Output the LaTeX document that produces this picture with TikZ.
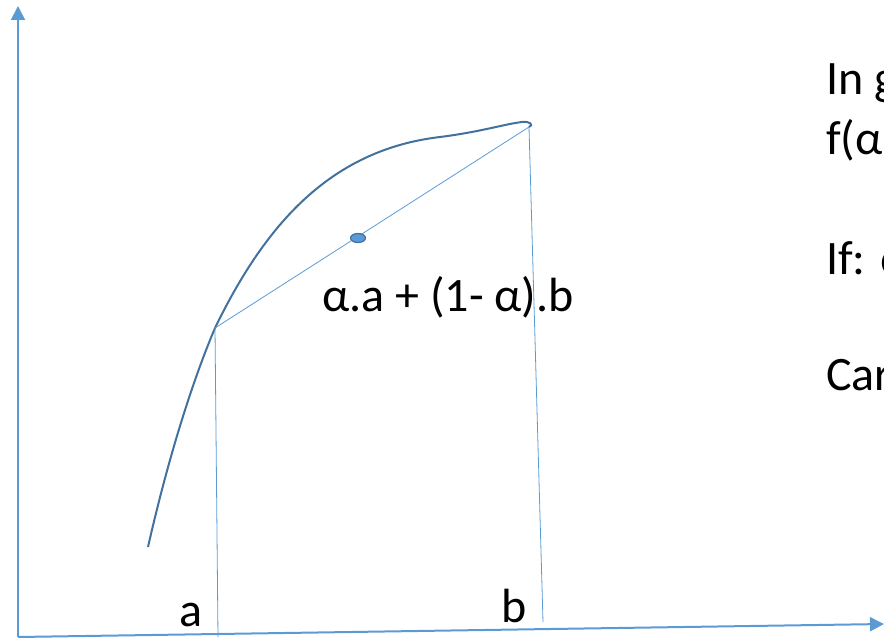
\documentclass[tikz,border=0pt]{standalone}
\usepackage{fontspec}
\setmainfont{Carlito}
\usetikzlibrary{arrows.meta,shapes.geometric}
\definecolor{axisblue}{HTML}{5B9BD5}
\definecolor{curveblue}{HTML}{41719C}
\tikzset{
  axis/.style={draw=axisblue, line width=2pt, -{Triangle[length=14pt, width=14pt]}},
  guide/.style={draw=axisblue, line width=0.8pt},
  curve/.style={draw=curveblue, line width=2pt},
  lbl/.style={font=\fontsize{48}{56}\selectfont, inner sep=0pt},
  note/.style={font=\fontsize{48}{56}\selectfont, inner sep=0pt, anchor=west},
}
\begin{document}
\begin{tikzpicture}[x=1pt, y=-1pt]
  \useasboundingbox (0,0) rectangle (884,639);
  \clip (0,0) rectangle (884,639);
  %% axes
  \coordinate (origin) at (18,637);
  \coordinate (ytop) at (18,6);
  \coordinate (xend) at (884,624);
  \draw[axis] (origin) -- (ytop);
  \draw[axis] (origin) -- (xend);

  %% concave curve and its chord
  \coordinate (pa) at (215,328);
  \coordinate (pb) at (529,127);
  \draw[curve] (148,547) .. controls (170,450) and (195,375) .. (pa)
    .. controls (265,225) and (330,150) .. (440,137)
    .. controls (480,132) and (505,124) .. (522,122)
    .. controls (530,121) and (534,125) .. (pb);
  \draw[guide] (pa) -- (pb);

  %% projections on the x axis
  \coordinate (fa) at (218,637);
  \coordinate (fb) at (543,622);
  \draw[guide] (pa) -- (fa);
  \draw[guide] (pb) -- (fb);

  %% point on the chord
  \node[ellipse, draw=curveblue, fill=axisblue, line width=1.2pt,
        minimum width=15pt, minimum height=9pt, inner sep=0pt] (mid) at (358,238) {};
  \node[lbl] (midlbl) at (448,297) {α.a + (1- α).b};

  %% labels on the x axis
  \node[lbl] (la) at (191,615) {a};
  \node[lbl] (lb) at (514,606) {b};

  %% text at the right
  \node[note] (t1) at (826,83) {In g};
  \node[note] (t2) at (826,140) {f(α};
  \node[note] (t3) at (826,258) {If: α};
  \node[note] (t4) at (826,375) {Car};
\end{tikzpicture}
\end{document}
